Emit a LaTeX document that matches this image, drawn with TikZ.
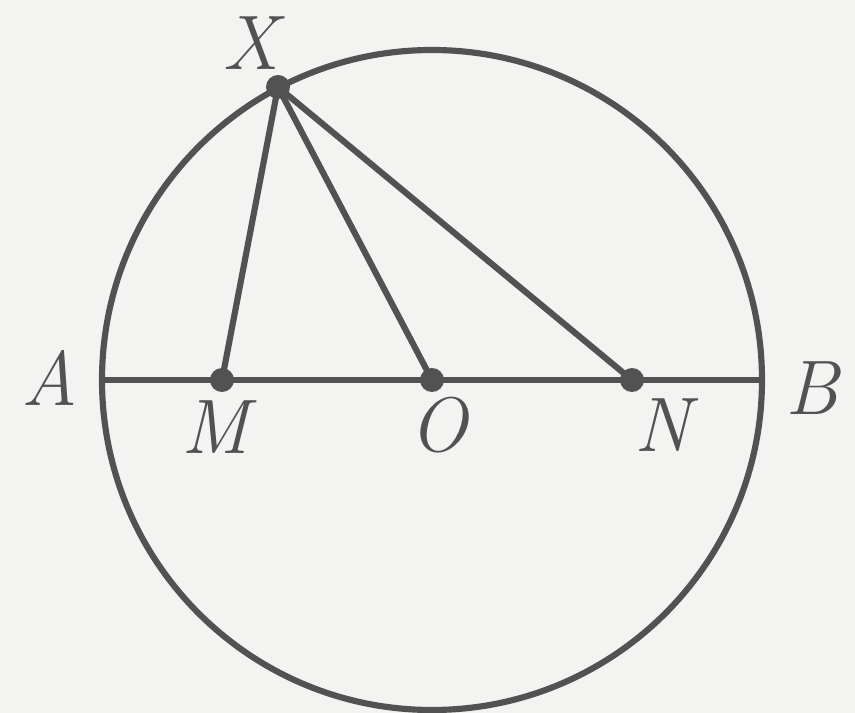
\documentclass[tikz,border=0pt]{standalone}
\usepackage{xcolor}
\usepackage{tikz}
\usetikzlibrary{positioning}
\definecolor{inkgray}{HTML}{525252}
\definecolor{papergray}{HTML}{F3F3F1}

\begin{document}
\begin{tikzpicture}[x=0.02cm, y=0.02cm,
    geo/.style={draw=inkgray, line width=3.5pt},
    dot/.style={circle, fill=inkgray, inner sep=0pt, minimum size=0.48cm},
    lbl/.style={text=inkgray, font=\itshape\fontsize{44}{48}\selectfont}]
    \fill[papergray] (0,0) rectangle (855,713);
    \useasboundingbox (0,0) rectangle (855,713);
    % points
    \coordinate (O) at (432,333);
    \coordinate (A) at (102,333);
    \coordinate (B) at (762,333);
    \coordinate (M) at (222,333);
    \coordinate (N) at (632,333);
    \coordinate (X) at (278,626);
    \draw[geo] (O) circle (330);
    \draw[geo] (A) -- (B);
    \draw[geo] (X) -- (M);
    \draw[geo] (X) -- (O);
    \draw[geo] (X) -- (N);
    \node[dot] (dM) at (M) {};
    \node[dot] (dO) at (O) {};
    \node[dot] (dN) at (N) {};
    \node[dot] (dX) at (X) {};
    % labels
    \node[lbl] (lX) at (251,670) {X};
    \node[lbl] (lA) at (50,335) {A};
    \node[lbl] (lB) at (812,325) {B};
    \node[lbl] (lM) at (215,286) {M};
    \node[lbl] (lO) at (438,288) {O};
    \node[lbl] (lN) at (663,288) {N};
\end{tikzpicture}
\end{document}
